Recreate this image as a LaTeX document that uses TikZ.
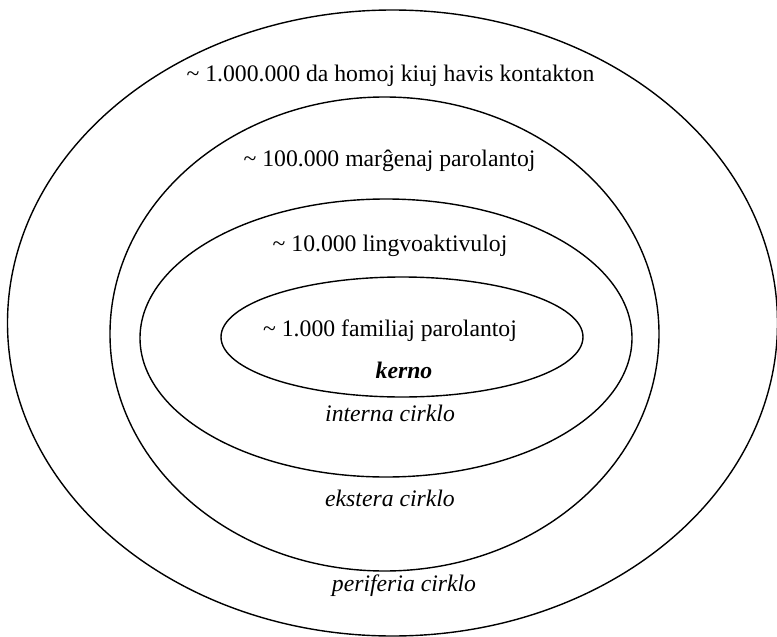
\documentclass[tikz,border=0pt]{standalone}
\usepackage{fontspec}
\setmainfont{Liberation Serif}
\usetikzlibrary{shapes.geometric}
\begin{document}
\begin{tikzpicture}[x=1pt,y=-1pt,
  ring/.style={draw=black,line width=1.4pt,ellipse,inner sep=0pt,minimum width=#1},
  lbl/.style={anchor=base,inner sep=0pt,font=\fontsize{23.7}{28}\selectfont}]
\useasboundingbox (0,0) rectangle (777,637);
\node[ring=770pt,minimum height=626pt] (outer) at (392.5,323) {};
\node[ring=549pt,minimum height=474pt] (outside) at (384.5,334) {};
\node[ring=492pt,minimum height=278pt] (inside) at (386,338) {};
\node[ring=362pt,minimum height=120pt] (core) at (402,337) {};
\node[lbl] (t1) at (390.5,81) {\textasciitilde{} 1.000.000 da homoj kiuj havis kontakton};
\node[lbl] (t2) at (389.5,166) {\textasciitilde{} 100.000 marĝenaj parolantoj};
\node[lbl] (t3) at (390,251) {\textasciitilde{} 10.000 lingvoaktivuloj};
\node[lbl] (t4) at (390,336.5) {\textasciitilde{} 1.000 familiaj parolantoj};
\node[lbl] (kerno) at (404,378) {\textbf{\textit{kerno}}};
\node[lbl] (interna) at (390,421.5) {\textit{interna cirklo}};
\node[lbl] (ekstera) at (390,506) {\textit{ekstera cirklo}};
\node[lbl] (periferia) at (404,591.5) {\textit{periferia cirklo}};
\end{tikzpicture}
\end{document}
